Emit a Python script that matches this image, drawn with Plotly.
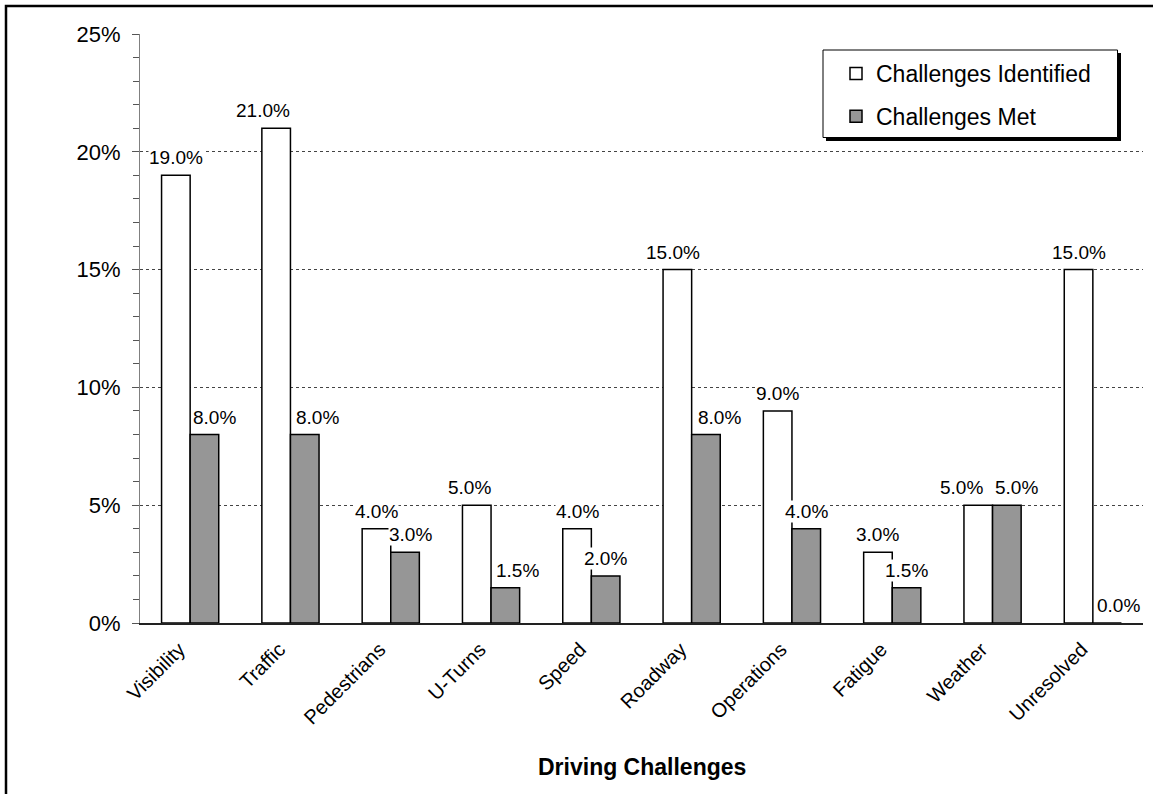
import plotly.graph_objects as go

categories = ["Visibility", "Traffic", "Pedestrians", "U-Turns", "Speed",
              "Roadway", "Operations", "Fatigue", "Weather", "Unresolved"]
identified = [19.0, 21.0, 4.0, 5.0, 4.0, 15.0, 9.0, 3.0, 5.0, 15.0]
met = [8.0, 8.0, 3.0, 1.5, 2.0, 8.0, 4.0, 1.5, 5.0, 0.0]
y_ticks = [0, 5, 10, 15, 20, 25]
y_tick_labels = ["0%", "5%", "10%", "15%", "20%", "25%"]

W, H = 1153, 794
ML, MR, MT, MB = 140, 10, 34, 171
PW, PH = W - ML - MR, H - MT - MB
BARGAP = 0.43
FONT = "Arial, Liberation Sans, sans-serif"

# label nudges (px) as placed in the original chart, keyed by (series, category)
label_nudge = {("met", "Visibility"): 10, ("met", "Traffic"): 13, ("met", "Pedestrians"): 5,
               ("met", "U-Turns"): 12, ("met", "Roadway"): 14, ("met", "Weather"): 10,
               ("met", "Unresolved"): 11, ("id", "U-Turns"): -7, ("id", "Weather"): -17,
               ("id", "Traffic"): -13, ("id", "Roadway"): -4}

def px_x(p):
    return (p - ML) / PW

def px_y(p):
    return (H - MB - p) / PH

fig = go.Figure()
fig.add_trace(go.Bar(name="Challenges Identified", x=categories, y=identified,
                     marker=dict(color="white", line=dict(color="black", width=1.5)),
                     legendgroup="a"))
fig.add_trace(go.Bar(name="Challenges Met", x=categories, y=met,
                     marker=dict(color="#969696", line=dict(color="black", width=1.5)),
                     legendgroup="b"))

group_px = PW / len(categories)
bar_px = group_px * (1 - BARGAP) / 2
annotations = []
for key, series, sign in (("id", identified, -1), ("met", met, 1)):
    for c, v in zip(categories, series):
        annotations.append(dict(x=c, y=v, xref="x", yref="y", text=f"{v:.1f}%",
                                showarrow=False, yanchor="bottom", xanchor="center",
                                xshift=sign * bar_px / 2 + label_nudge.get((key, c), 0),
                                yshift=6, bgcolor="white", borderpad=0,
                                font=dict(family=FONT, size=19, color="black")))
annotations.append(dict(x=0.5, y=px_y(767), xref="paper", yref="paper",
                        text="<b>Driving Challenges</b>", showarrow=False,
                        xanchor="center", yanchor="middle",
                        font=dict(family=FONT, size=23, color="black")))

shapes = [
    dict(type="rect", xref="paper", yref="paper",
         x0=px_x(6), x1=px_x(1170), y0=px_y(810), y1=px_y(6),
         line=dict(color="black", width=2.5), fillcolor="rgba(0,0,0,0)", layer="above"),
    dict(type="rect", xref="paper", yref="paper",
         x0=px_x(826), x1=px_x(1121), y0=px_y(141), y1=px_y(53),
         line=dict(color="black", width=0), fillcolor="black", layer="above"),
    dict(type="rect", xref="paper", yref="paper",
         x0=px_x(823), x1=px_x(1117.5), y0=px_y(137.5), y1=px_y(50),
         line=dict(color="black", width=1), fillcolor="white", layer="above"),
]

fig.update_layout(
    width=W, height=H,
    margin=dict(l=ML, r=MR, t=MT, b=MB, autoexpand=False),
    paper_bgcolor="white", plot_bgcolor="white",
    barmode="group", bargap=BARGAP, bargroupgap=0,
    font=dict(family=FONT, color="black"),
    showlegend=True,
    legend=dict(x=px_x(836), y=px_y(52), xanchor="left", yanchor="top",
                bgcolor="rgba(0,0,0,0)", borderwidth=0,
                font=dict(family=FONT, size=23, color="black"),
                traceorder="grouped", tracegroupgap=10),
    annotations=annotations,
    shapes=shapes,
    xaxis=dict(showline=True, linecolor="#222222", linewidth=1.8,
               ticks="", tickangle=-45, showgrid=False,
               tickfont=dict(family=FONT, size=20, color="black"),
               ticklabelshift=-11, ticklabelstandoff=5,
               automargin=False),
    yaxis=dict(range=[0, 25], tickvals=y_ticks, ticktext=y_tick_labels,
               showline=True, linecolor="#808080", linewidth=1,
               ticks="outside", ticklen=7, tickcolor="#555555", tickwidth=1,
               minor=dict(dtick=1, ticks="outside", ticklen=6, tickcolor="#555555",
                          showgrid=False),
               showgrid=True, gridcolor="#444444", gridwidth=1, griddash="3px,3px",
               zeroline=False, ticklabelstandoff=7,
               tickfont=dict(family=FONT, size=22, color="black"),
               automargin=False),
)

fig.write_html("out.html")
